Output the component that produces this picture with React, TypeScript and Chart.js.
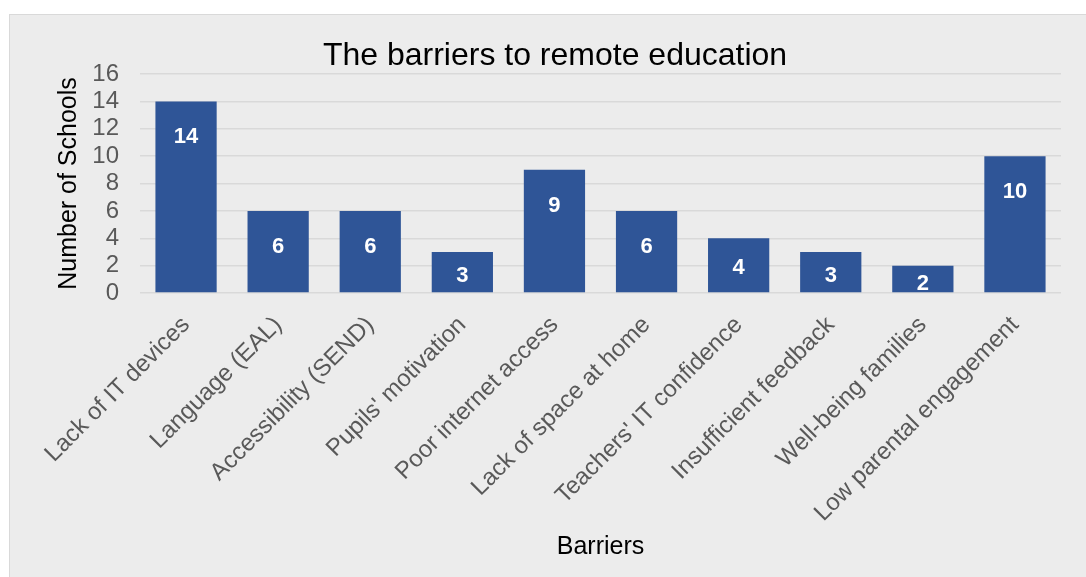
import React, { useEffect, useRef } from "react";
import { Chart, registerables } from "chart.js";

Chart.register(...registerables);

const chartTitle = "The barriers to remote education";
const xAxisTitle = "Barriers";
const yAxisTitle = "Number of Schools";

const categories = [
  "Lack of IT devices",
  "Language (EAL)",
  "Accessibility (SEND)",
  "Pupils' motivation",
  "Poor internet access",
  "Lack of space at home",
  "Teachers' IT confidence",
  "Insufficient feedback",
  "Well-being families",
  "Low parental engagement",
];

const schoolCounts = [14, 6, 6, 3, 9, 6, 4, 3, 2, 10];

const yMin = 0;
const yMax = 16;
const yStep = 2;

const FONT = "'Liberation Sans', Arial, Helvetica, sans-serif";

const valueLabels = {
  id: "valueLabels",
  afterDatasetsDraw(chart: any) {
    const ctx = chart.ctx;
    const meta = chart.getDatasetMeta(0);
    const base = chart.scales.y.getPixelForValue(0);
    ctx.save();
    ctx.font = `bold 22px ${FONT}`;
    ctx.fillStyle = "#ffffff";
    ctx.textAlign = "center";
    ctx.textBaseline = "middle";
    meta.data.forEach((bar: any, i: number) => {
      const h = base - bar.y;
      const off = Math.min(36, h * 0.42 + 7);
      ctx.fillText(String(schoolCounts[i]), bar.x, bar.y + off);
    });
    ctx.restore();
  },
};

export default function App() {
  const ref = useRef<HTMLCanvasElement | null>(null);

  useEffect(() => {
    if (!ref.current) return;
    Chart.defaults.font.family = FONT;
    const chart = new Chart(ref.current, {
      type: "bar",
      data: {
        labels: categories,
        datasets: [
          {
            data: schoolCounts,
            backgroundColor: "#2f5597",
            borderWidth: 0,
            categoryPercentage: 1,
            barPercentage: 0.665,
          },
        ],
      },
      options: {
        responsive: false,
        animation: false,
        events: [],
        layout: { padding: { left: 14, right: 0, top: 0, bottom: 0 } },
        plugins: {
          legend: { display: false },
          tooltip: { enabled: false },
          title: {
            display: true,
            text: chartTitle,
            color: "#000000",
            font: { size: 32, weight: "normal", family: FONT, lineHeight: 1.2 },
            padding: { top: 22, bottom: -1.4 },
          },
        },
        scales: {
          x: {
            grid: { display: false },
            border: { display: false },
            ticks: {
              color: "#595959",
              font: { size: 24, family: FONT },
              minRotation: 45,
              maxRotation: 45,
              autoSkip: false,
              padding: 10,
            },
            title: {
              display: true,
              text: xAxisTitle,
              color: "#000000",
              font: { size: 25, family: FONT, lineHeight: 1.2 },
              padding: { top: 0, bottom: 15 },
            },
            afterFit: (s: any) => {
              s.height = 284;
            },
          },
          y: {
            min: yMin,
            max: yMax,
            ticks: {
              stepSize: yStep,
              color: "#595959",
              font: { size: 24, family: FONT, lineHeight: 1 },
              padding: 21,
              autoSkip: false,
            },
            grid: { color: "#d9d9d9", lineWidth: 1.5, drawTicks: false },
            border: { display: false },
            title: {
              display: true,
              text: yAxisTitle,
              color: "#000000",
              font: { size: 25, family: FONT, lineHeight: 1.2 },
              padding: { top: 30.5, bottom: 0 },
            },
            afterFit: (s: any) => {
              s.width = 116;
            },
          },
          y2: {
            position: "right",
            display: true,
            grid: { display: false },
            border: { display: false },
            ticks: { display: false },
            afterFit: (s: any) => {
              s.width = 25;
            },
          },
        },
      } as any,
      plugins: [valueLabels],
    });
    return () => chart.destroy();
  }, []);

  return (
    <div
      style={{
        position: "fixed",
        left: 0,
        top: 0,
        width: 1086,
        height: 577,
        background: "#ffffff",
        overflow: "hidden",
      }}
    >
      <div
        style={{
          position: "absolute",
          left: 9,
          top: 14,
          width: 1076,
          height: 562,
          background: "#ececec",
          border: "1px solid #d9d9d9",
        }}
      >
        <canvas ref={ref} width={1076} height={562} style={{ display: "block", width: 1076, height: 562 }} />
      </div>
    </div>
  );
}
